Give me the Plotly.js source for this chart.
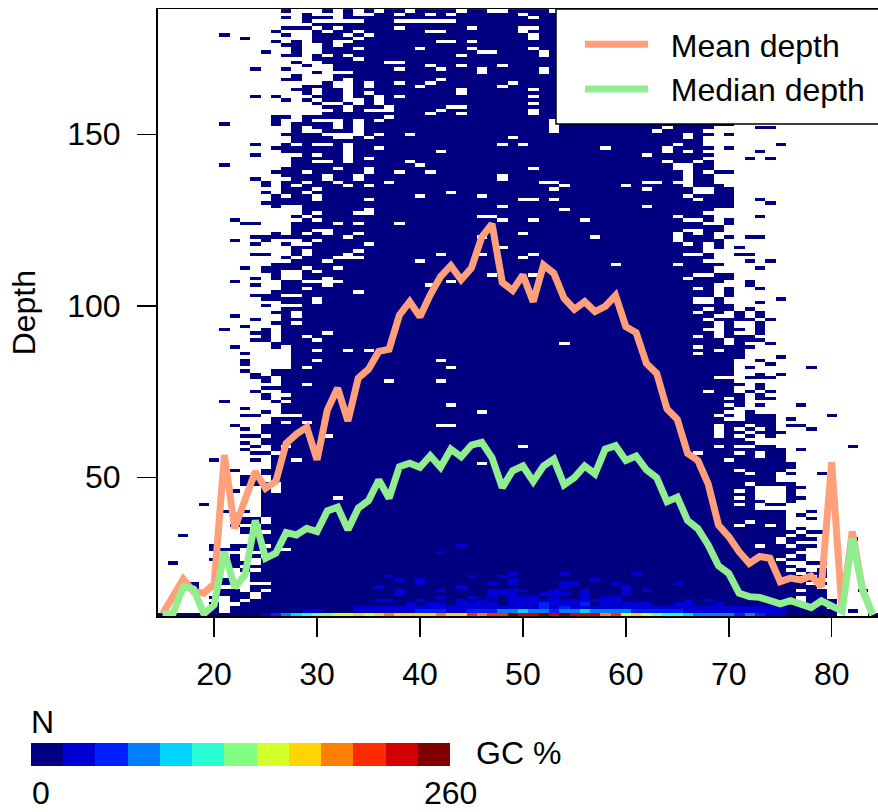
<!DOCTYPE html>
<html><head><meta charset="utf-8">
<script src="https://cdn.plot.ly/plotly-3.0.1.min.js"></script>
<style>html,body{margin:0;padding:0;background:#fff}#c{width:878px;height:812px}</style>
</head><body><div id="c"></div>
<script>
var gc = [15,16,17,18,19,20,21,22,23,24,25,26,27,28,29,30,31,32,33,34,35,36,37,38,39,40,41,42,43,44,45,46,47,48,49,50,51,52,53,54,55,56,57,58,59,60,61,62,63,64,65,66,67,68,69,70,71,72,73,74,75,76,77,78,79,80,81,82,83,84];
var meanDepth = [10.2,15.2,20.3,16.7,16.2,18.9,56.5,35.1,43.4,51.7,46.8,48.8,59.9,62.6,64.6,55.1,69.6,76,66.4,78.9,81.5,86.7,87.3,97.3,101.2,96.8,103.2,108.5,111.7,107.6,111,120,123.9,106.8,104.5,109,101.2,111.9,109.5,102.2,99,101.2,98.3,99.8,103,93.9,92.2,83.2,80.3,69.9,66.9,57,54.9,48.1,36.1,32.7,28.3,24.9,26.9,26.4,19.6,20.6,20.1,21.2,18.1,54.4,11.3,34.2,17.2,9.9];
var medianDepth = [10.2,10.2,18.1,17.4,10.2,12.8,28.3,17.9,21.5,37.4,26.4,27.9,33.9,33.2,35.1,34.2,40.2,41.3,34.7,41,43.2,49.2,43.9,53.1,54.1,52.9,56.3,52.9,58.2,56,59.4,60.2,55.7,47,51.9,53.3,48.8,53.3,55.3,47.8,49.9,53.3,51,58.2,59.2,54.9,56.2,52.2,49.9,42.9,44.2,37.4,35,30.3,24.2,22,16.2,15.2,15,14,13.1,14,13.1,12,14,12.6,11,32.2,17.2,9.9];
var barColours = ["#000080","#0000D4","#0020FF","#0080FF","#00D4FF","#2AFFD4","#80FF80","#D4FF2A","#FFD400","#FF8000","#FF2A00","#D40000","#800000"];
var barLevels = [0,1,2,3,4,5,6,7,8,9,10,11,12];

// GC columns holding data in each depth row, from depth 186 down to depth 10
var occupiedRuns = [
"27 31 33 35 37-38 40-43 45-46 49-52 54-70",
"29 33 36-37 39-40 42 44-49 51-70",
"27 29-31 33-50 52-70",
"29 35-37 44-70",
"30-70",
"27-29 31 33-37 39-44 46-49 52-70",
"26 30 32-33 35-40 43-49 51-70",
"21 27 30-32 34 36-50 52-70",
"23 30-33 35-50 52-70",
"26 28 30-31 34-41 44 46-70",
"27-28 31 33-70",
"28 31-33 35-39 41-44 46-50 52-70",
"25 28 31-45 48-51 53-70",
"27-28 30 32 34-43 45-51 53-70",
"30-33 35-70",
"28 31-36 39-70",
"29 32-40 42-43 45-47 49-70",
"24 27 32-37 39-41 43-45 47-51 53-70",
"30 34-45 47-51 53-70",
"28 32-70",
"27-28 32 34-41 43-70",
"31 34 36-37 39-40 42-48 50-70",
"29-31 34 36-39 41-47 49-70",
"28-29 31-32 34-43 45-50 52-70",
"29 31-32 34 36-43 45-70",
"24 26 30-32 34-35 37 39-50 52-70",
"27 29 31-32 35 37-70",
"30 33 35 37-50 52-70",
"31-32 34-36 38-42 45-70",
"32 34 38-41 43-50 52-70",
"31-40 42-43 45-50 52-70",
"26-27 29-36 38-70",
"26 29 33 35 37-52 54-70",
"21 26 28-31 33 35-52 54-70",
"28 30-31 33 35-52 54-63 65-68 73-74",
"28 31-33 35-52 54-62 64-67",
"27-30 35 37-38 40-65 67-68 70",
"28-31 34 36-48 50-65 67",
"28-67",
"24 27 29 32 34-47 49 51-64 66-67 75",
"26-32 34-35 37-57 59-63 65-68 70",
"27-32 34-41 43-63 65 67 73",
"24 29 31-32 34-61 63-68",
"28-32 34 36-67 72 74",
"28-29 32 34-38 40-63 65-66 68",
"21 28-39 41-64 67-68",
"27-31 33-34 36-50 52-64 67-68",
"26-28 30-34 36-37 39-40 42-65 67 69-70",
"27-30 32-33 35-47 49-65 67-68",
"24 28-30 32-33 35-47 49-65 67-68",
"25 27-28 30-31 33-36 38-51 54-61 64 67-68",
"25 27 29-32 34 36-53 55-59 61-65 67-69",
"27-29 31-52 54-61 63-66 69-70",
"25 27-28 30-42 44-66 69-70",
"26 28-29 31-39 41-45 47-65 67-70",
"26-29 31-34 36-49 52 54-66 68-70 73",
"25-70 74",
"26 29-47 49-61 63-70",
"29-34 36-53 55-68",
"29 31-33 36-67",
"28 30-45 48-64 66-68 73",
"22 29 31-47 49-50 52-55 57-65 68 70",
"23-24 28-31 33 35-37 39-67 70",
"28-69",
"28-29 32-65 68-69",
"26 28 30 32-33 35-49 51-64 66 68",
"24-32 34-45 47-56 58-64 66-68 70 72-73",
"22 25 29 31-64 66-69",
"24 27 30-34 36-65 67 69",
"28-47 49-67 69 71",
"28 30-33 35-67",
"24-25 28 30-32 34-41 43-45 47-50 52-65 68 71-72",
"27 29-31 35-49 51-68",
"28-30 32-39 41-67 72 74",
"26-58 60-64 66-69",
"23 25-28 30-31 33-68 73",
"25-26 29 31-68",
"26 29-46 48-50 52-66 69-70",
"24 26 29-30 32-65 67-70",
"22 27-28 33-42 44-69 72",
"24 27-30 32-40 42-68 72",
"27-28 30-66 68 70 73",
"26-33 35-68 70",
"24-26 29-68 70",
"25-29 31-66 69 75",
"27-29 31-66 69 73",
"25 29-70",
"27-67 69-70 72",
"26-27 29-66 68-69 71 73",
"22 27 29-68 71 73",
"24 27-67 69-72 74",
"26-27 29-68 70 73",
"23 27-68 70 73",
"21 25 27-67 70-71 73",
"24-25 27-30 32-68 70 73",
"25 27-28 30-66 68 70-72",
"24-25 27-29 31-69 71-73",
"26-53 55-69 71 74",
"22 26 28-66 68-72",
"28-29 31-32 34 36-68 70-71",
"23 28-66 68-71",
"28-71 75",
"23 28-29 31-41 43-70 73",
"23 28-70 74",
"28 30-42 44-70 72 78",
"23 26-70",
"24 26-70 73 75",
"24-25 27-68 72-74",
"25 27-36 38-41 43-70",
"27-28 30-71 73",
"25-70 73",
"24 27-67 69-70 72 74",
"25 28-71 73",
"25 27-69 71 73-74",
"21 26 28-71",
"27-42 44-69 71 73 77",
"23 27-70",
"25 27-45 47-69 72",
"23-24 29-68 70 72-74 80",
"26-69 72-74 76",
"26 28 30-74",
"22 25-41 44-68 70-71 73-74 76-77",
"23 25-68 70 72 74 78",
"25-68 70-71 73-75",
"23-24 26-30 32-68 70 72 74",
"25-71",
"23 25-72",
"24 26 28-49 51-68 70 73-74 82",
"23 26-75 77",
"24-25 27-66 68-70 72 74-75",
"26-72 74-75",
"20 24 26-27 29-69 71-75",
"26-45 47-76",
"26-76",
"22 25-70 72-75",
"25-71 73-74 76 79",
"23-24 26-74",
"23-24 26-74",
"23-25 27-71 73-76",
"25 27-72 76-77",
"22 25 27-70 72 76",
"25-72 76",
"25-31 33-70 72 76-77",
"25-73 76",
"19 25-70 72 74-75",
"25-72",
"21 23 25-75 78",
"22 25-75 77",
"22-24 26-75 78",
"23-24 26-71 73-75",
"22 25-70 72-73 75",
"23 25-75 77",
"23-24 26-76 78-79",
"17 24-75 77",
"24-74 76-78 82",
"24-74 76",
"20 22-24 26-72 74-75 77-78",
"20-22 24-26 28-77",
"25-76",
"22 24 26-75 77",
"20 22 25-74 76-77",
"16 22-23 25-75 78-79",
"22 24-76",
"23 25-75 77 79",
"24-76 78-79",
"24-77 79",
"21 24-78",
"18 21 26-77 79",
"18 24-78",
"21-22 24 26-76 78-79 83",
"21-23 25-79",
"20 22-23 25-76 78-79",
"22 24-76 78-80",
"20 23-80",
"20 22-79",
"20 22-80 82",
"15-80 84"
];
// counts per cell above zero, as colour-key level: depth -> GC columns
var level1Cells = {30:"44",28:"42",22:"49 54 61",21:"37 45 48",20:"38 40 49 57",19:"40 47 49 54-55 59 65",18:"36 44 54 60",17:"38 42 47-50 53 56 60 62",16:"38 47-49 52-54 56 60",15:"42 45 47 49-51 53 56 58-59",14:"36-37 40 44 46 49-59 66 68",13:"39 41-42 44-47 49-51 53-55 58-62 65-66 69",12:"34-75",11:"29-30 34-39 43-44 66-75",10:"25 74-75"};
var level2Cells = {13:"52 56",12:"52 54",11:"40-42 45-47 53 61-65",10:"26 71 73"};
var level3Cells = {11:"48-49 51-52 54-55 57-60",10:"27 67-70 72"};
var level4Cells = {11:"50 56",10:"28 66"};
var level5Cells = {10:"29 64-65"};
var level6Cells = {10:"30-31 63"};
var level7Cells = {10:"32-33 35 60 62"};
var level8Cells = {10:"34 36 38-41 43-44 61"};
var level9Cells = {10:"37 42 46 58"};
var level10Cells = {10:"45 47-48 59"};
var level11Cells = {10:"50-51 53 55-57"};
var level12Cells = {10:"49 52 54"};

function expand(runs){
  var out=[];
  runs.split(" ").forEach(function(t){
    var p=t.split("-"), a=+p[0], b=p.length>1?+p[1]:a;
    for(var i=a;i<=b;i++) out.push(i);
  });
  return out;
}
var topDepth = 186;
var depths = occupiedRuns.map(function(_,i){return topDepth-i;}).reverse();
var cells = depths.map(function(){return gc.map(function(){return null;});});
occupiedRuns.forEach(function(runs,i){
  var row = cells[depths.indexOf(topDepth-i)];
  expand(runs).forEach(function(g){row[gc.indexOf(g)]=0;});
});
[[1,level1Cells],[2,level2Cells],[3,level3Cells],[4,level4Cells],[5,level5Cells],[6,level6Cells],[7,level7Cells],[8,level8Cells],[9,level9Cells],[10,level10Cells],[11,level11Cells],[12,level12Cells]].forEach(function(pair){
  Object.keys(pair[1]).forEach(function(d){
    var row=cells[depths.indexOf(+d)];
    expand(pair[1][d]).forEach(function(g){row[gc.indexOf(g)]=pair[0];});
  });
});
var scale = barColours.map(function(c,i){return [i/12,c];});

var W=878,H=812;
var L=157.5,T=9.1,B=616.2, FS=32, lineW=1.5;
var data=[
 {type:"heatmap",x:gc,y:depths,z:cells,zmin:0,zmax:12,colorscale:scale,showscale:false,hoverongaps:false,xaxis:"x",yaxis:"y",showlegend:false},
 {type:"scatter",mode:"lines",name:"\u00a0\u00a0Mean depth",x:gc,y:meanDepth,line:{color:"#FFA07A",width:7},xaxis:"x",yaxis:"y"},
 {type:"scatter",mode:"lines",name:"\u00a0\u00a0Median depth",x:gc,y:medianDepth,line:{color:"#90EE90",width:7},xaxis:"x",yaxis:"y"},
 {type:"heatmap",x:barLevels,y:["N"],z:[barLevels],zmin:0,zmax:12,colorscale:scale,showscale:false,xaxis:"x2",yaxis:"y2",showlegend:false,hoverinfo:"skip"}
];
var font={family:"Liberation Sans, Arial, sans-serif",size:FS,color:"#000"};
var layout={
 width:W,height:H,margin:{l:0,r:0,t:0,b:0},paper_bgcolor:"#fff",plot_bgcolor:"#fff",font:font,
 xaxis:{domain:[L/W,1],range:[14.5,84.5],tickvals:[20,30,40,50,60,70,80],ticks:"outside",ticklen:19,tickwidth:lineW,tickcolor:"#000",showline:true,linecolor:"#000",linewidth:lineW,mirror:true,showgrid:false,zeroline:false,ticklabelstandoff:10,tickfont:font,anchor:"y"},
 yaxis:{domain:[(H-B)/H,(H-T)/H],range:[9.5,186.5],tickvals:[50,100,150],ticks:"outside",ticklen:19,tickwidth:lineW,tickcolor:"#000",showline:true,linecolor:"#000",linewidth:lineW,showgrid:false,zeroline:false,ticklabelstandoff:10,tickfont:font,anchor:"x",title:{text:"Depth",font:font,standoff:22}},
 xaxis2:{domain:[31/W,450/W],range:[-0.5,12.5],visible:false,anchor:"y2"},
 yaxis2:{domain:[(H-766)/H,(H-743)/H],visible:false,anchor:"x2",type:"category"},
 shapes:[{type:"rect",xref:"paper",yref:"paper",x0:556/W,x1:1.01,y0:(H-124)/H,y1:(H-T)/H,fillcolor:"#fff",line:{color:"#000",width:lineW},layer:"above"}],
 showlegend:true,
 legend:{xref:"paper",yref:"paper",x:580/W,y:(H-17)/H,xanchor:"left",yanchor:"top",bgcolor:"rgba(0,0,0,0)",borderwidth:0,itemwidth:63,font:font,itemclick:false,itemdoubleclick:false},
 annotations:[
  {xref:"paper",yref:"paper",x:29/W,y:(H-722)/H,text:"N",showarrow:false,xanchor:"left",yanchor:"middle",font:font},
  {xref:"paper",yref:"paper",x:474/W,y:(H-753)/H,text:"GC %",showarrow:false,xanchor:"left",yanchor:"middle",font:font},
  {xref:"paper",yref:"paper",x:30/W,y:(H-793)/H,text:"0",showarrow:false,xanchor:"left",yanchor:"middle",font:font},
  {xref:"paper",yref:"paper",x:450/W,y:(H-793)/H,text:"260",showarrow:false,xanchor:"center",yanchor:"middle",font:font}
 ]
};
Plotly.newPlot("c",data,layout,{staticPlot:true,displayModeBar:false});
</script></body></html>
